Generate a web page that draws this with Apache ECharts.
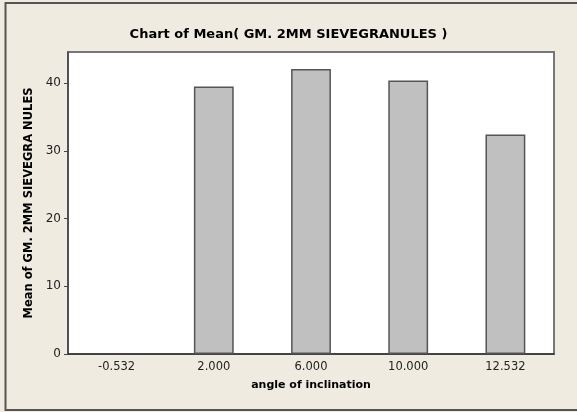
<!DOCTYPE html>
<html>
<head>
<meta charset="utf-8">
<script src="https://cdn.jsdelivr.net/npm/echarts@6/dist/echarts.min.js"></script>
<style>
  html, body { margin: 0; padding: 0; background: #efebe1; }
  #chart { width: 577px; height: 412px; }
</style>
</head>
<body>
<div id="chart"></div>
<script>
// angle of inclination levels
const angles = ['-0.532', '2.000', '6.000', '10.000', '12.532']
// mean value per level (no bar at -0.532)
const means = [null, 39.5, 42.1, 40.4, 32.4]
// y axis ticks
const yTicks = [0, 10, 20, 30, 40]

const chart = echarts.init(document.getElementById('chart'), null, { renderer: 'canvas' })

const font = 'DejaVu Sans'

const option = {
  backgroundColor: '#efebe1',
  animation: false,
  title: {
    text: 'Chart of Mean( GM. 2MM SIEVEGRANULES )',
    left: 'center',
    top: 23,
    textStyle: { fontFamily: font, fontSize: 13, fontWeight: 'bold', color: '#000' }
  },
  // outer frame
  graphic: [{
    type: 'rect',
    shape: { x: 5.5, y: 3, width: 580, height: 407 },
    style: { fill: null, stroke: '#555', lineWidth: 2 },
    silent: true
  }],
  grid: {
    left: 68,
    top: 52,
    right: 23,
    bottom: 58,
    show: true,
    backgroundColor: '#ffffff',
    borderColor: '#777',
    borderWidth: 2
  },
  xAxis: {
    type: 'category',
    data: angles,
    name: 'angle of inclination',
    nameLocation: 'middle',
    nameGap: 26,
    nameTextStyle: { fontFamily: font, fontSize: 11, fontWeight: 'bold', color: '#000' },
    axisLine: { lineStyle: { color: '#333', width: 1.5 } },
    axisTick: { alignWithLabel: true, length: 4, lineStyle: { color: '#444' } },
    axisLabel: { fontFamily: font, fontSize: 11.5, color: '#222', margin: 7 },
    splitLine: { show: false }
  },
  yAxis: {
    type: 'value',
    min: 0,
    max: 44.6,
    interval: 10,
    name: 'Mean of GM. 2MM SIEVEGRA NULES',
    nameLocation: 'middle',
    nameGap: 31,
    nameTextStyle: { fontFamily: font, fontSize: 11.5, fontWeight: 'bold', color: '#000' },
    axisLine: { show: true, lineStyle: { color: '#444', width: 1.5 } },
    axisTick: { show: true, length: 4, customValues: yTicks, lineStyle: { color: '#444' } },
    axisLabel: { fontFamily: font, fontSize: 12, color: '#222', margin: 7, customValues: yTicks },
    splitLine: { show: false }
  },
  series: [{
    type: 'bar',
    data: means,
    barWidth: '41%',
    itemStyle: { color: '#c0c0c0', borderColor: '#555', borderWidth: 1.5 }
  }]
}

chart.setOption(option)
</script>
</body>
</html>
